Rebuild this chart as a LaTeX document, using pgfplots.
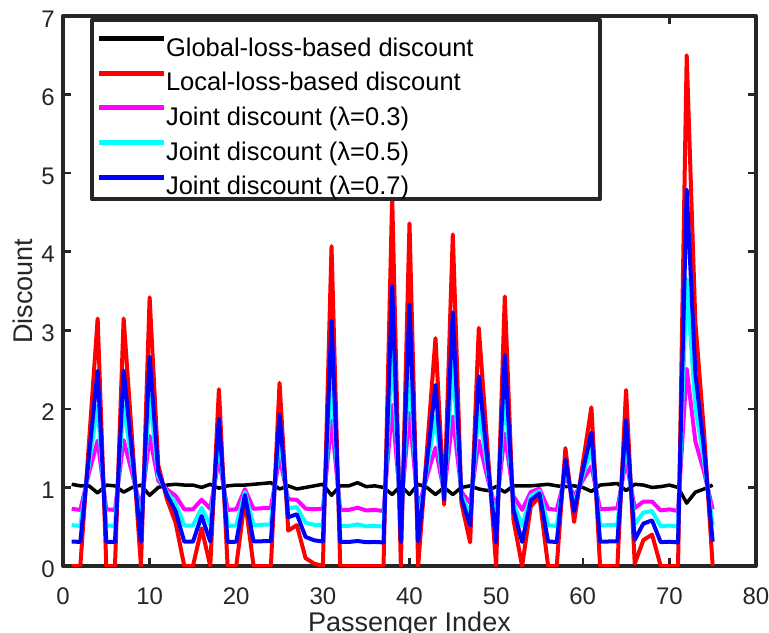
\documentclass[border=0pt]{standalone}
\usepackage{fontspec}
\setmainfont{Liberation Sans}
\usepackage{pgfplots}
\usepackage{pgfplotstable}
\pgfplotsset{compat=1.18}
\definecolor{axisgray}{rgb}{0.15,0.15,0.15}
\definecolor{lineblack}{rgb}{0,0,0}
\definecolor{linered}{rgb}{1,0,0}
\definecolor{linemagenta}{rgb}{1,0,1}
\definecolor{linecyan}{rgb}{0,1,1}
\definecolor{lineblue}{rgb}{0,0,1}

% i: passenger index, G: global-loss-based, L: local-loss-based,
% M, C, B: joint discounts for lambda = 0.3, 0.5, 0.7
\pgfplotstableread{
i  G    L    M     C     B
1  1.04 0.00 0.728 0.520 0.312
2  1.02 0.00 0.714 0.510 0.306
3  1.02 1.57 1.185 1.295 1.405
4  0.93 3.15 1.596 2.040 2.484
5  1.03 0.00 0.721 0.515 0.309
6  1.02 0.00 0.714 0.510 0.306
7  0.94 3.15 1.603 2.045 2.487
8  1.00 1.58 1.174 1.290 1.406
9  1.03 0.00 0.721 0.515 0.309
10 0.90 3.42 1.656 2.160 2.664
11 1.00 1.28 1.084 1.140 1.196
12 1.03 0.85 0.976 0.940 0.904
13 1.04 0.55 0.893 0.795 0.697
14 1.03 0.00 0.721 0.515 0.309
15 1.03 0.00 0.721 0.515 0.309
16 1.00 0.48 0.844 0.740 0.636
17 1.04 0.00 0.728 0.520 0.312
18 0.99 2.25 1.368 1.620 1.872
19 1.02 0.00 0.714 0.510 0.306
20 1.03 0.00 0.721 0.515 0.309
21 1.03 0.85 0.976 0.940 0.904
22 1.04 0.00 0.728 0.520 0.312
23 1.05 0.00 0.735 0.525 0.315
24 1.06 0.00 0.742 0.530 0.318
25 0.98 2.33 1.385 1.655 1.925
26 1.02 0.45 0.849 0.735 0.621
27 0.98 0.52 0.842 0.750 0.658
28 1.00 0.10 0.730 0.550 0.370
29 1.02 0.03 0.723 0.525 0.327
30 1.04 0.00 0.728 0.520 0.312
31 0.90 4.07 1.851 2.485 3.119
32 1.02 0.00 0.714 0.510 0.306
33 1.02 0.00 0.714 0.510 0.306
34 1.06 0.00 0.742 0.530 0.318
35 1.01 0.00 0.707 0.505 0.303
36 1.02 0.00 0.714 0.510 0.306
37 1.00 0.00 0.700 0.500 0.300
38 0.91 4.70 2.047 2.805 3.563
39 1.02 0.00 0.714 0.510 0.306
40 0.91 4.36 1.945 2.635 3.325
41 1.04 0.00 0.728 0.520 0.312
42 1.00 1.45 1.135 1.225 1.315
43 0.91 2.90 1.507 1.905 2.303
44 1.00 0.78 0.934 0.890 0.846
45 0.91 4.22 1.903 2.565 3.227
46 1.00 0.80 0.940 0.900 0.860
47 1.02 0.30 0.804 0.660 0.516
48 0.98 3.03 1.595 2.005 2.415
49 0.96 1.50 1.122 1.230 1.338
50 1.01 0.00 0.707 0.505 0.303
51 0.94 3.43 1.687 2.185 2.683
52 1.02 0.59 0.891 0.805 0.719
53 1.02 0.00 0.714 0.510 0.306
54 1.02 0.76 0.942 0.890 0.838
55 1.03 0.88 0.985 0.955 0.925
56 1.04 0.00 0.728 0.520 0.312
57 1.02 0.00 0.714 0.510 0.306
58 1.01 1.50 1.157 1.255 1.353
59 1.02 0.56 0.882 0.790 0.698
60 1.00 1.30 1.090 1.150 1.210
61 0.95 2.02 1.271 1.485 1.699
62 1.03 0.00 0.721 0.515 0.309
63 1.04 0.00 0.728 0.520 0.312
64 1.05 0.00 0.735 0.525 0.315
65 0.96 2.24 1.344 1.600 1.856
66 1.04 0.03 0.737 0.535 0.333
67 1.03 0.33 0.820 0.680 0.540
68 1.00 0.40 0.820 0.700 0.580
69 1.01 0.00 0.707 0.505 0.303
70 1.03 0.00 0.721 0.515 0.309
71 1.00 0.00 0.700 0.500 0.300
72 0.80 6.50 2.510 3.650 4.790
73 0.94 3.10 1.588 2.020 2.452
74 0.98 1.70 1.196 1.340 1.484
75 1.03 0.00 0.721 0.515 0.309
}\discount

% legend entry text: fixed height, no depth, padded to the box width
\newcommand{\legtext}[1]{\raisebox{0pt}[33.2bp][0pt]{\makebox[430bp][l]{#1}}}

\begin{document}
\begin{tikzpicture}
\begin{axis}[
  at={(0,0)}, anchor=south west,
  scale only axis, width=693bp, height=550bp,
  xmin=0, xmax=80, ymin=0, ymax=7,
  xtick={0,10,...,80}, ytick={0,1,...,7},
  tick align=inside, major tick length=8bp,
  every tick/.style={axisgray, line width=2.5bp},
  axis line style={axisgray, line width=4bp},
  /pgf/number format/assume math mode=true,
  ticklabel style={font=\fontsize{24bp}{28bp}\selectfont, text=axisgray},
  xticklabel style={inner sep=0pt, yshift=-22bp},
  yticklabel style={inner sep=0pt, xshift=-8bp, yshift=-3bp},
  xlabel={Passenger Index}, ylabel={Discount},
  every axis x label/.style={at={(axis description cs:0.5,0)}, anchor=north,
    inner sep=0pt, yshift=-46bp, font=\fontsize{27bp}{32bp}\selectfont, text=axisgray},
  every axis y label/.style={at={(axis description cs:-0.0433,0.5)}, anchor=south,
    rotate=90, inner sep=0pt, font=\fontsize{27bp}{32bp}\selectfont, text=axisgray},
  legend style={
    at={(axis description cs:0.039,1)}, anchor=north west, yshift=-2bp,
    draw=axisgray, line width=4bp, fill=white,
    inner xsep=4bp, inner ysep=3bp,
    nodes={inner sep=0pt},
    column sep=0bp, row sep=0pt,
    font=\fontsize{25.5bp}{30bp}\selectfont,
  },
  legend cell align=left,
  legend image code/.code={\draw[#1, line width=5bp] (0bp,2bp) -- (65bp,2bp);},
  line join=round,
]
\addplot[lineblack, line width=3.5bp] table[x=i, y=G] {\discount};
\addlegendentry{\legtext{Global-loss-based discount}}
\addplot[linered, line width=4bp] table[x=i, y=L] {\discount};
\addlegendentry{\legtext{Local-loss-based discount}}
\addplot[linemagenta, line width=4bp] table[x=i, y=M] {\discount};
\addlegendentry{\legtext{Joint discount (λ=0.3)}}
\addplot[linecyan, line width=4bp] table[x=i, y=C] {\discount};
\addlegendentry{\legtext{Joint discount (λ=0.5)}}
\addplot[lineblue, line width=4bp] table[x=i, y=B] {\discount};
\addlegendentry{\legtext{Joint discount (λ=0.7)}}
\end{axis}
\pgfresetboundingbox
\path[use as bounding box] (-63bp,-67bp) rectangle (706bp,566bp);
\end{tikzpicture}
\end{document}
